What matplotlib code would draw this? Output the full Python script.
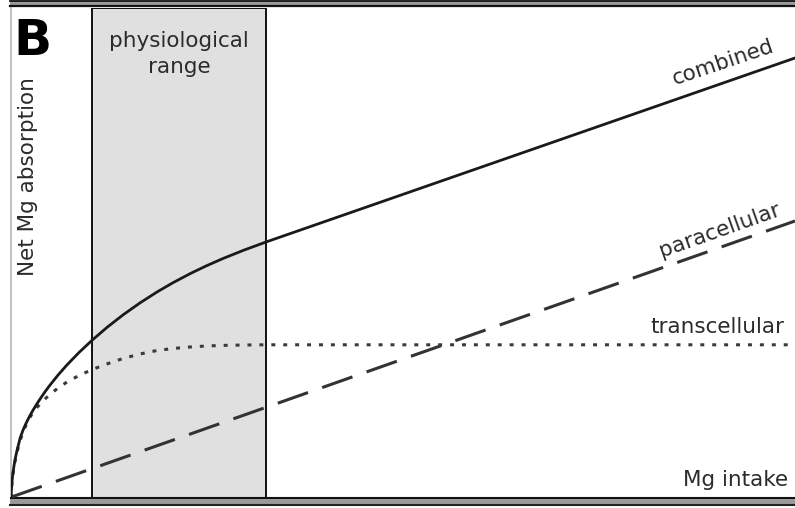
import matplotlib
matplotlib.use("Agg")
import matplotlib.pyplot as plt
from matplotlib.lines import Line2D
from matplotlib.patches import Rectangle

# ---- data (arbitrary units; x: Mg intake, y: absorption) ----
combined_x = [0, 0.5, 1, 1.5, 2, 3, 4, 5, 6.5, 8, 9, 12, 15, 18.5, 22, 26, 30, 34.5,
              39, 47, 56, 68, 81, 96, 112, 129, 146, 162, 179, 195, 212, 233, 255, 784]
combined_y = [0, 9.7, 16.2, 21.2, 25.2, 32.2, 38.0, 43.0, 49.6, 55.3, 59.6, 67.8,
              74.6, 81.6, 87.8, 94.3, 100.4, 106.9, 112.9, 122.9, 133.1, 145.5, 157.7,
              170.6, 183.1, 195.1, 206.0, 215.3, 224.3, 232.0, 239.5, 247.9, 256, 440]

trans_x = [0, 0.5, 1, 1.5, 2, 3, 4, 5, 6.5, 8, 9, 12, 15, 18.5, 22, 26, 30, 34.5, 39,
           47, 56, 68, 79, 89, 100, 112, 129, 146, 162, 179, 195, 212, 233, 255, 784]
trans_y = [0, 9, 15, 20, 24, 31, 36.5, 41, 47.5, 53.5, 57, 66, 73, 80, 85.5, 90.5,
           95, 99.5, 103.5, 110, 116, 122.5, 127.5, 131.5, 135.5, 139.5, 144, 147.5,
           149.5, 151, 152, 152.6, 153, 153.2, 153.2]

para_x = [0.5, 784]
para_y = [1.0, 277]

phys_range = [81, 255]

label_B = "B"
label_phys = ["physiological", "range"]
label_y = "Net Mg absorption"
label_x = "Mg intake"
label_combined = "combined"
label_para = "paracellular"
label_trans = "transcellular"

plt.rcParams['font.family'] = ['DejaVu Sans']
TXT = "#2b2b2b"

fig = plt.figure(figsize=(7.95, 5.08), dpi=100)
W, H = 795.0, 508.0
ax = fig.add_axes([11 / W, 10 / H, 784 / W, 490 / H])
ax.set_xlim(0, 784)
ax.set_ylim(0, 490)
ax.set_xticks([])
ax.set_yticks([])
for s in ("top", "right"):
    ax.spines[s].set_visible(False)
ax.spines["left"].set_color("#b8b8b8")
ax.spines["left"].set_linewidth(1.2)
ax.spines["bottom"].set_color("#111111")
ax.spines["bottom"].set_linewidth(1.5)

# physiological range band
ax.axvspan(phys_range[0], phys_range[1], ymin=0, ymax=1, facecolor="#e0e0e0",
           edgecolor="#111111", linewidth=1.4, zorder=1)

# curves
ax.plot(para_x, para_y, color="#333333", linewidth=2.2,
        linestyle=(0, (10.5, 4.9)), zorder=3)
ax.plot(trans_x, trans_y, color="#3a3a3a", linewidth=2.2,
        linestyle=(0, (1.3, 2.6)), zorder=3)
ax.plot(combined_x, combined_y, color="#1a1a1a", linewidth=2.0,
        solid_capstyle="round", solid_joinstyle="round", zorder=4)

# texts
ax.text(2.3, 443, label_B, fontsize=36, fontweight="bold", color="black",
        ha="left", va="baseline", zorder=5)
ax.text(168, 451.3, label_phys[0], fontsize=15.5, color=TXT, ha="center",
        va="baseline", zorder=5)
ax.text(168, 425.3, label_phys[1], fontsize=15.5, color=TXT, ha="center",
        va="baseline", zorder=5)
ax.text(17.2, 321, label_y, fontsize=15.5, color=TXT, rotation=90,
        ha="center", va="center", zorder=5)
ax.text(777, 12, label_x, fontsize=15.5, color=TXT, ha="right",
        va="baseline", zorder=5)
ax.text(773.8, 165.1, label_trans, fontsize=15.5, color=TXT, ha="right",
        va="baseline", zorder=5)
ax.text(714.2, 430.2, label_combined, fontsize=15.5, color=TXT, ha="center",
        va="baseline", rotation=18.5, rotation_mode="anchor", zorder=5)
ax.text(711.1, 262.2, label_para, fontsize=15.5, color=TXT, ha="center",
        va="baseline", rotation=19.5, rotation_mode="anchor", zorder=5)

# frame double lines (top and bottom of the panel)
def fy(py):
    return 1 - py / H

x0, x1 = 10 / W, 1.0
fig.add_artist(Rectangle((x0, fy(6)), x1 - x0, (6 - 1) / H, transform=fig.transFigure,
                         facecolor="#9a9a9a", edgecolor="none"))
fig.add_artist(Line2D([x0, x1], [fy(1.2), fy(1.2)], transform=fig.transFigure,
                      color="#111111", linewidth=1.3))
fig.add_artist(Line2D([x0, x1], [fy(5.5), fy(5.5)], transform=fig.transFigure,
                      color="#111111", linewidth=1.6))
fig.add_artist(Rectangle((x0, fy(504.5)), x1 - x0, (504.5 - 499) / H,
                         transform=fig.transFigure, facecolor="#9a9a9a",
                         edgecolor="none"))
fig.add_artist(Line2D([x0, x1], [fy(504.5), fy(504.5)], transform=fig.transFigure,
                      color="#222222", linewidth=1.5))

fig.savefig("out.png", dpi=100)
